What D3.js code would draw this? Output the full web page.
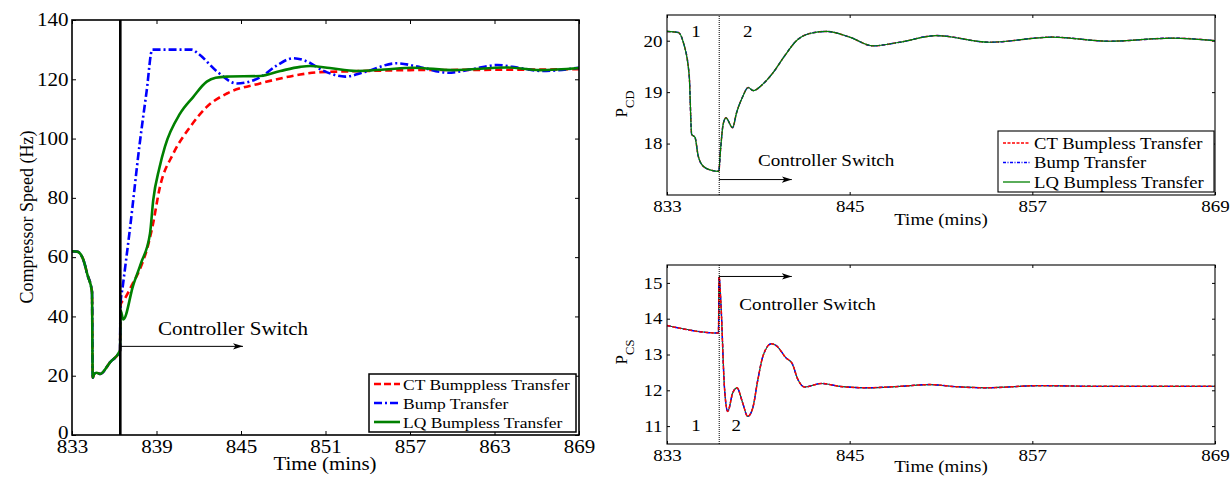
<!DOCTYPE html>
<html><head><meta charset="utf-8">
<script src="https://cdn.jsdelivr.net/npm/d3@7"></script>
<style>
body{margin:0;background:#fff}
svg{display:block}
text{font-family:"Liberation Serif","Times New Roman",serif;fill:#000}
</style>
</head><body>
<svg id="c" width="1230" height="477"></svg>
<script>
// ---------------- DATA ----------------
const xTicksLeft = [833, 839, 845, 851, 857, 863, 869];
const yTicksLeft = [0, 20, 40, 60, 80, 100, 120, 140];
const xTicksRight = [833, 845, 857, 869];
const yTicksPcd = [18, 19, 20];
const yTicksPcs = [11, 12, 13, 14, 15];
const switchTime = 836.43;

const seriesNames = ["CT Bumppless Transfer", "Bump Transfer", "LQ Bumpless Transfer"];
const seriesNamesRight = ["CT Bumpless Transfer", "Bump Transfer", "LQ Bumpless Transfer"];

// Compressor speed (Hz), common part before the switch
const speedPre = [[833,62],[833.4,61.8],[833.8,59.2],[834.1,54],[834.42,48.3],[834.47,19.3],[834.58,20.6],[834.75,21],[835,20.6],[835.7,24.5],[836.41,28.5]];
// after the switch
const speedCT = [[836.45,44],[836.75,46],[837.3,51],[837.8,55.7],[838.4,64],[838.7,70],[839.25,83.8],[840.2,95],[841.4,104],[842.57,110.7],[844,115.2],[846.35,118.6],[848,120.5],[849.2,121.6],[850.6,122.4],[853,122.7],[857,123.1],[863,123.2],[869,123.4]];
const speedBump = [[836.44,44],[836.6,50],[837.1,69],[837.8,98],[838.3,116],[838.7,130],[841.5,130],[842.0,128.5],[843.3,122.6],[844.7,118.6],[845.6,119.2],[846.4,120.8],[847.5,124.5],[848.7,127.1],[849.6,126.2],[850.8,123],[852.4,120.9],[853.8,122.5],[856.05,125.4],[857.8,124],[859.7,122.2],[861.5,123.5],[863.2,124.8],[864.8,123.8],[866.4,122.8],[869,123.9]];
const speedLQ = [[836.45,42],[836.64,39],[837.35,50.6],[837.9,58],[838.54,68],[838.77,79.3],[839.2,90],[839.6,97.3],[840.67,108.4],[841.6,114],[842.57,119.2],[843.2,120.5],[844,120.9],[846.35,121.1],[847.8,122.8],[849.2,124.2],[849.9,124.5],[851.3,123.8],[853.2,122.8],[855.2,123.3],[857.2,123.9],[860.05,123.1],[863.9,124],[866.2,123.1],[869,123.8]];

// P_CD (all three controllers overlap)
const pcd = [[833,20.18],[833.74,20.16],[834.07,19.97],[834.46,19.32],[834.62,18.18],[834.84,18.12],[835.05,17.76],[835.38,17.56],[835.93,17.48],[836.4,17.46],[836.52,17.89],[836.69,18.38],[836.87,18.5],[837.31,18.31],[837.57,18.6],[838.0,18.93],[838.33,19.09],[838.66,19.03],[839.31,19.16],[839.97,19.38],[840.74,19.71],[841.5,20.0],[842.38,20.14],[843.47,20.18],[845,20.07],[846.53,19.9],[848.28,19.97],[850.7,20.1],[854.18,19.97],[858.3,20.07],[862.05,19.99],[866.2,20.05],[869,20.0]];
// P_CS (all three controllers overlap)
const pcs = [[833,13.81],[836.38,13.6],[836.42,15.18],[836.55,14.35],[836.77,12.11],[836.99,11.41],[837.32,11.93],[837.6,12.07],[837.97,11.65],[838.3,11.27],[838.63,11.5],[838.97,12.3],[839.3,12.95],[839.85,13.3],[840.17,13.25],[840.83,12.9],[841.22,12.75],[841.6,12.3],[842.04,12.09],[843.14,12.19],[844.34,12.11],[846.1,12.07],[848.3,12.11],[850.27,12.16],[852,12.1],[854,12.07],[857.5,12.13],[861.45,12.11],[869,12.11]];

// ---------------- DRAW ----------------
const svg = d3.select("#c");
const defs = svg.append("defs");
defs.append("marker").attr("id","arr").attr("viewBox","0 0 10 8").attr("refX",10).attr("refY",4)
  .attr("markerWidth",10).attr("markerHeight",8).attr("markerUnits","userSpaceOnUse").attr("orient","auto")
  .append("path").attr("d","M0,0.8 L10,4 L0,7.2 L2.5,4 Z").attr("fill","#000");

function stext(g, x, y, str, size, sx, anchor){
  return g.append("text").attr("transform",`translate(${x},${y}) scale(${sx},1)`)
    .attr("font-size",size).attr("text-anchor",anchor||"start").text(str);
}

function panel(o){
  const g = svg.append("g");
  const x = d3.scaleLinear().domain(o.xd).range(o.xr);
  const y = d3.scaleLinear().domain(o.yd).range(o.yr);
  const style = (ax, labels) => {
    ax.select(".domain").remove();
    ax.selectAll(".tick line").attr("stroke","#000").attr("stroke-width",1);
    ax.selectAll("text").style("font-size", o.fs+"px").attr("fill","#000");
    if(labels) ax.selectAll("text").attr("transform",`scale(${o.sx},1)`);
  };
  const bx = g.append("g").attr("transform",`translate(0,${o.yr[0]})`)
    .call(d3.axisBottom(x).tickValues(o.xt).tickSizeInner(-o.tl).tickSizeOuter(0).tickPadding(o.padX).tickFormat(d3.format("d")));
  style(bx,true);
  const tx = g.append("g").attr("transform",`translate(0,${o.yr[1]})`)
    .call(d3.axisTop(x).tickValues(o.xt).tickSizeInner(-o.tl).tickSizeOuter(0).tickFormat(()=>""));
  style(tx,false);
  const ly = g.append("g").attr("transform",`translate(${o.xr[0]},0)`)
    .call(d3.axisLeft(y).tickValues(o.yt).tickSizeInner(-o.tl).tickSizeOuter(0).tickPadding(o.padY).tickFormat(d3.format("d")));
  style(ly,true);
  // lift the lowest y label a little so it clears the first x label
  ly.selectAll(".tick").filter(d=>d===o.yd[0]).select("text").attr("y",-2.5);
  const ry = g.append("g").attr("transform",`translate(${o.xr[1]},0)`)
    .call(d3.axisRight(y).tickValues(o.yt).tickSizeInner(-o.tl).tickSizeOuter(0).tickFormat(()=>""));
  style(ry,false);
  return {g,x,y};
}

// ===== Left panel: compressor speed =====
{
  const P = panel({xd:[833,869], xr:[72,579], yd:[0,140], yr:[435,20], xt:xTicksLeft, yt:yTicksLeft,
    fs:18, sx:1.17, tl:4, padX:5, padY:3});
  const {g,x,y} = P;
  const line = d3.line().x(d=>x(d[0])).y(d=>y(d[1])).curve(d3.curveMonotoneX);
  const ct = speedPre.concat(speedCT), bump = speedPre.concat(speedBump), lq = speedPre.concat(speedLQ);
  g.append("path").attr("d",line(ct)).attr("fill","none").attr("stroke","#ff0000").attr("stroke-width",2.6).attr("stroke-dasharray","7,4");
  g.append("path").attr("d",line(bump)).attr("fill","none").attr("stroke","#0000ff").attr("stroke-width",2.6).attr("stroke-dasharray","8,3,2,3");
  g.append("path").attr("d",line(lq)).attr("fill","none").attr("stroke","#008000").attr("stroke-width",2.6);
  // switch line
  g.append("line").attr("x1",x(switchTime)).attr("x2",x(switchTime)).attr("y1",y(140)).attr("y2",y(0)).attr("stroke","#000").attr("stroke-width",2.6);
  g.append("line").attr("x1",x(switchTime)).attr("x2",x(845.14)).attr("y1",y(29.9)).attr("y2",y(29.9)).attr("stroke","#000").attr("stroke-width",1).attr("marker-end","url(#arr)");
  stext(g, x(839.1), y(33.7), "Controller Switch", 18, 1.17);
  // box
  g.append("rect").attr("x",72).attr("y",20).attr("width",507).attr("height",415).attr("fill","none").attr("stroke","#000").attr("stroke-width",1.6);
  // axis labels
  stext(g, 325, 470, "Time (mins)", 18, 1.16, "middle");
  g.append("text").attr("transform","translate(33,217) rotate(-90)").attr("font-size",18).attr("text-anchor","middle").text("Compressor Speed (Hz)");
  // legend
  const lg = g.append("g");
  lg.append("rect").attr("x",369).attr("y",374).attr("width",207).attr("height",58).attr("fill","#fff").attr("stroke","#000").attr("stroke-width",1.5);
  const st = [{c:"#ff0000",d:"7,3"},{c:"#0000ff",d:"8,3,2,3"},{c:"#008000",d:null}];
  seriesNames.forEach((n,i)=>{
    const yy = 384 + i*19;
    lg.append("line").attr("x1",374).attr("x2",400).attr("y1",yy).attr("y2",yy).attr("stroke",st[i].c).attr("stroke-width",2.6).attr("stroke-dasharray",st[i].d);
    stext(lg, 403, yy+5.5, n, 15.5, 1.13);
  });
}

// ===== Right panels =====
function rightPanel(yd, yr, yt, data, order, label, sub, labelY, opts){
  const P = panel({xd:[833,869], xr:[667,1215], yd:yd, yr:yr, xt:xTicksRight, yt:yt,
    fs:16.5, sx:1.15, tl:3, padX:5.5, padY:4});
  const {g,x,y} = P;
  const line = d3.line().x(d=>x(d[0])).y(d=>y(d[1])).curve(d3.curveMonotoneX);
  const styles = {
    ct:{c:"#ff0000",d:"3.5,2",w:1.5},
    bump:{c:"#0000ff",d:"4,1.5,1,1.5",w:1.4},
    lq:{c:"#008000",d:null,w:1.2}
  };
  order.forEach(k=>{
    const s = styles[k];
    g.append("path").attr("d",line(data)).attr("fill","none").attr("stroke",s.c).attr("stroke-width",s.w).attr("stroke-dasharray",s.d);
  });
  g.append("line").attr("x1",x(switchTime)).attr("x2",x(switchTime)).attr("y1",yr[0]).attr("y2",yr[1]).attr("stroke","#000").attr("stroke-width",1).attr("stroke-dasharray","1,1");
  g.append("line").attr("x1",x(switchTime)).attr("x2",x(841.2)).attr("y1",y(opts.arrowY)).attr("y2",y(opts.arrowY)).attr("stroke","#000").attr("stroke-width",1).attr("marker-end","url(#arr)");
  stext(g, x(opts.csX), y(opts.csY), "Controller Switch", 16.5, 1.16);
  stext(g, x(834.9), y(opts.numY), "1", 16.5, 1.15, "middle");
  stext(g, x(opts.twoX), y(opts.numY), "2", 16.5, 1.15, "middle");
  g.append("rect").attr("x",667).attr("y",yr[1]).attr("width",548).attr("height",yr[0]-yr[1]).attr("fill","none").attr("stroke","#000").attr("stroke-width",1.1);
  stext(g, 941, yr[0]+opts.xlabOff, "Time (mins)", 16.5, 1.15, "middle");
  const t = g.append("text").attr("transform",`translate(627,${labelY}) rotate(-90)`).attr("font-size",17).attr("text-anchor","middle");
  t.append("tspan").text(label);
  t.append("tspan").attr("font-size",12.5).attr("dy",7).text(sub);
  return P;
}

const topPanel = rightPanel([17,20.5],[195,15],yTicksPcd,pcd,["ct","bump","lq"],"P","CD",104,
  {arrowY:17.3, csX:838.97, csY:17.56, numY:20.07, twoX:838.3, xlabOff:30});
{
  const g = topPanel.g;
  const lg = g.append("g");
  lg.append("rect").attr("x",998).attr("y",131).attr("width",216).attr("height",61).attr("fill","#fff").attr("stroke","#000").attr("stroke-width",1.1);
  const st = [{c:"#ff0000",d:"3,1.5"},{c:"#0000ff",d:"3,1.5,1,1.5"},{c:"#008000",d:null}];
  seriesNamesRight.forEach((n,i)=>{
    const yy = 143 + i*19.5;
    lg.append("line").attr("x1",1003).attr("x2",1030).attr("y1",yy).attr("y2",yy).attr("stroke",st[i].c).attr("stroke-width",1.3).attr("stroke-dasharray",st[i].d);
    stext(lg, 1034, yy+5.5, n, 16.5, 1.13);
  });
}
rightPanel([10.5,15.5],[444,265],yTicksPcs,pcs,["lq","bump","ct"],"P","CS",352,
  {arrowY:15.18, csX:837.75, csY:14.23, numY:10.85, twoX:837.55, xlabOff:28});
</script>
</body></html>
